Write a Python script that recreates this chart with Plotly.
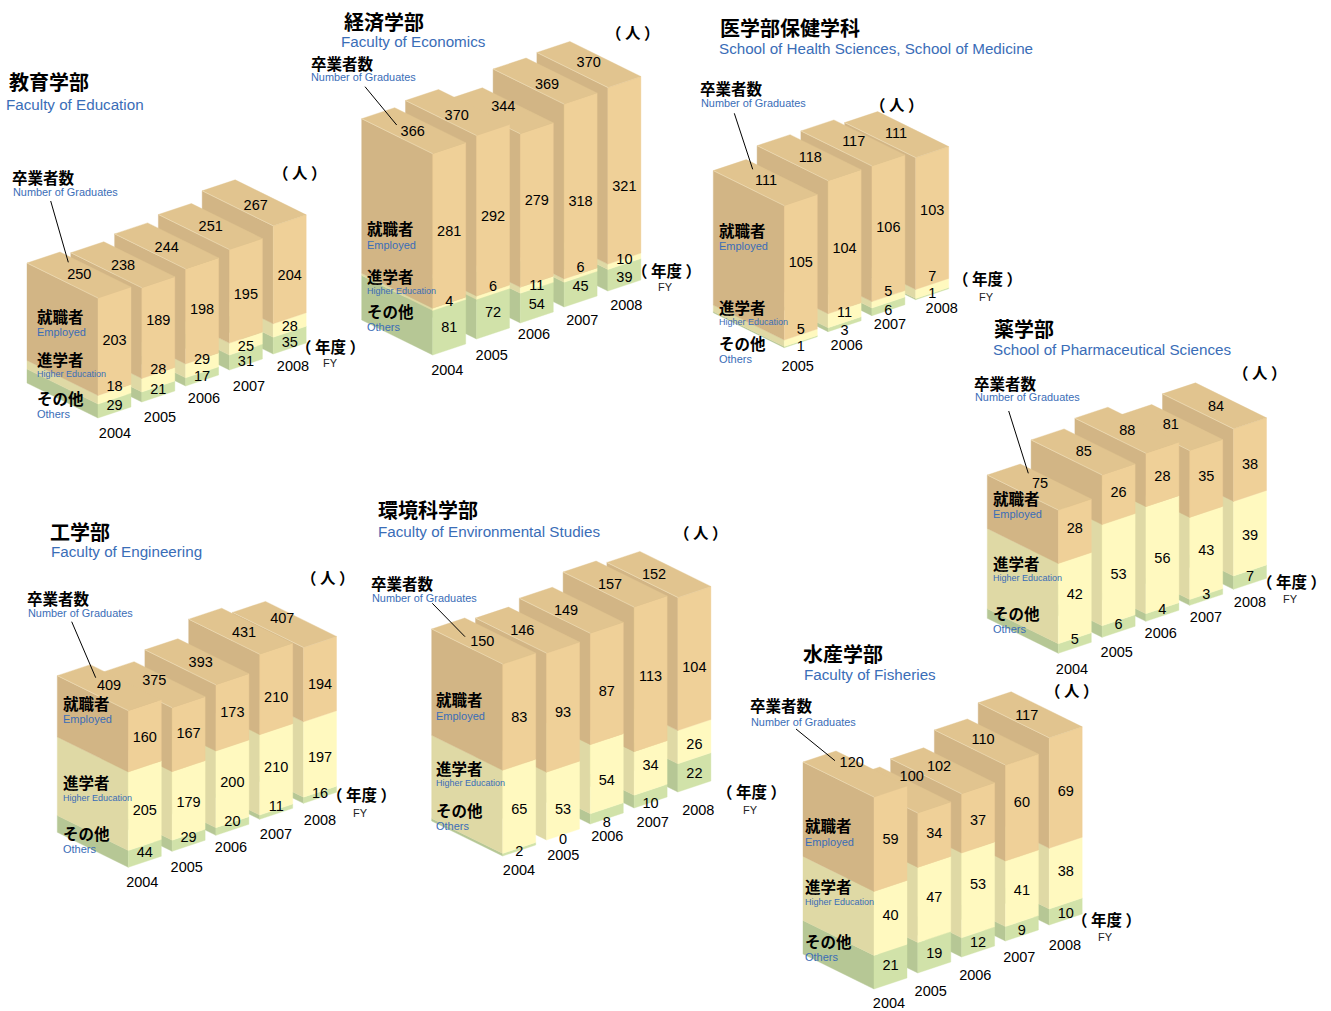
import plotly.graph_objects as go

YEARS = ["2004", "2005", "2006", "2007", "2008"]

EDU_OTHERS = [29, 21, 17, 31, 35]
EDU_HIGHER = [18, 28, 29, 25, 28]
EDU_EMPLOYED = [203, 189, 198, 195, 204]
EDU_TOTAL = [250, 238, 244, 251, 267]

ECO_OTHERS = [81, 72, 54, 45, 39]
ECO_HIGHER = [4, 6, 11, 6, 10]
ECO_EMPLOYED = [281, 292, 279, 318, 321]
ECO_TOTAL = [366, 370, 344, 369, 370]

MED_YEARS = ["2005", "2006", "2007", "2008"]
MED_OTHERS = [1, 3, 6, 1]
MED_HIGHER = [5, 11, 5, 7]
MED_EMPLOYED = [105, 104, 106, 103]
MED_TOTAL = [111, 118, 117, 111]

PHA_OTHERS = [5, 6, 4, 3, 7]
PHA_HIGHER = [42, 53, 56, 43, 39]
PHA_EMPLOYED = [28, 26, 28, 35, 38]
PHA_TOTAL = [75, 85, 88, 81, 84]

ENG_OTHERS = [44, 29, 20, 11, 16]
ENG_HIGHER = [205, 179, 200, 210, 197]
ENG_EMPLOYED = [160, 167, 173, 210, 194]
ENG_TOTAL = [409, 375, 393, 431, 407]

ENV_OTHERS = [2, 0, 8, 10, 22]
ENV_HIGHER = [65, 53, 54, 34, 26]
ENV_EMPLOYED = [83, 93, 87, 113, 104]
ENV_TOTAL = [150, 146, 149, 157, 152]

FIS_OTHERS = [21, 19, 12, 9, 10]
FIS_HIGHER = [40, 47, 53, 41, 38]
FIS_EMPLOYED = [59, 34, 37, 60, 69]
FIS_TOTAL = [120, 100, 102, 110, 117]

# Layout of each panel: where the front bar stands, pixels per graduate, and hand-placed text.
PANELS = [
    dict(ja="教育学部", en="Faculty of Education", years=YEARS, data=(EDU_OTHERS, EDU_HIGHER, EDU_EMPLOYED, EDU_TOTAL),
         origin=(98, 418), scale=0.48, title=(9, 82, 6, 104), grad=(12, 178, 13, 192), leader=(50.7, 201, 68.3, 262.3),
         unit=(300, 173), fy=(330, 347, 330, 362),
         year_xy=[(115, 433), (160, 417), (204, 398), (249, 386), (293, 366)],
         names=(37, 317, 332, 360, 374, 399, 414),
         y_o=[405.7, 389, 376.7, 361.7, 342.7], y_h=[386.7, 369.3, 359.3, 346.7, 326.7], y_e=[340, 320.7, 309, 294.7, 275],
         tot_xy=[(79.3, 274), (123, 265), (166.7, 247), (210.7, 226.7), (255.7, 205)]),
    dict(ja="経済学部", en="Faculty of Economics", years=YEARS, data=(ECO_OTHERS, ECO_HIGHER, ECO_EMPLOYED, ECO_TOTAL),
         origin=(432.7, 355), scale=0.55, title=(344, 22, 341, 41), grad=(311, 64, 311, 77), leader=(365, 86.7, 396.7, 125),
         unit=(633, 33), fy=(666, 271, 665, 286),
         year_xy=[(447.3, 370.7), (491.7, 355), (534, 334), (582.3, 320), (626.3, 305)],
         names=(367, 229, 245, 277, 291, 312, 327),
         y_o=[327.7, 312.7, 304, 286.7, 277.7], y_h=[301.7, 286.7, 285, 267.7, 259], y_e=[231.7, 216, 200, 201.7, 186.7],
         tot_xy=[(412.7, 131.7), (456.7, 115.7), (503.3, 106), (547, 84.7), (588.7, 62.7)]),
    dict(ja="医学部保健学科", en="School of Health Sciences, School of Medicine", years=MED_YEARS,
         data=(MED_OTHERS, MED_HIGHER, MED_EMPLOYED, MED_TOTAL),
         origin=(784.3, 347.7), scale=1.28, title=(720, 28, 718.7, 48), grad=(700, 89, 701, 103), leader=(734.3, 113.3, 752.7, 169.3),
         unit=(897.3, 105), fy=(987.7, 279, 986.7, 296),
         year_xy=[(797.7, 366.7), (846.7, 345.7), (890, 324.3), (941.7, 308.7)],
         names=(719, 231, 246, 308, 322, 344, 359),
         y_o=[346.7, 330.7, 310, 293.3], y_h=[329, 312.7, 291.7, 276.7], y_e=[262.7, 248.7, 227.7, 210.7],
         tot_xy=[(766, 180.7), (810.3, 157.7), (853.7, 141.7), (896, 133.3)]),
    dict(ja="薬学部", en="School of Pharmaceutical Sciences", years=YEARS, data=(PHA_OTHERS, PHA_HIGHER, PHA_EMPLOYED, PHA_TOTAL),
         origin=(1058.3, 653.3), scale=1.91, title=(994, 329, 993, 349), grad=(974, 384, 975, 397), leader=(1008.7, 411, 1028.3, 473.3),
         unit=(1260, 373), fy=(1291.7, 582, 1290.7, 598),
         year_xy=[(1072, 669), (1116.7, 652.7), (1160.7, 633.7), (1206, 617.7), (1250, 602.7)],
         names=(993, 499, 514, 564, 578, 614, 629),
         y_o=[639.3, 624.3, 609, 594, 576.7], y_h=[594.3, 574.3, 558.7, 550.7, 535.7], y_e=[528.7, 492.7, 476.7, 476.7, 464.3],
         tot_xy=[(1040, 483.3), (1083.7, 451.7), (1127.3, 430), (1170.7, 424), (1216, 406)]),
    dict(ja="工学部", en="Faculty of Engineering", years=YEARS, data=(ENG_OTHERS, ENG_HIGHER, ENG_EMPLOYED, ENG_TOTAL),
         origin=(128.3, 867.3), scale=0.383, title=(50, 532, 51, 551), grad=(27, 599, 28, 613), leader=(71.7, 621.7, 95.7, 677.7),
         unit=(328, 578), fy=(361.7, 795, 360.7, 812),
         year_xy=[(142.3, 882.7), (186.7, 867.7), (231, 847.7), (276, 834.3), (320, 820)],
         names=(63, 704, 719, 783, 797.5, 834, 849),
         y_o=[852.3, 837.7, 821.7, 806.7, 793.3], y_h=[810.7, 802.7, 782.7, 767.3, 757.7], y_e=[737.7, 733.7, 712.7, 697.7, 684.7],
         tot_xy=[(109, 685.7), (154.3, 680), (200.7, 662.7), (244, 632.7), (282.3, 618.3)]),
    dict(ja="環境科学部", en="Faculty of Environmental Studies", years=YEARS, data=(ENV_OTHERS, ENV_HIGHER, ENV_EMPLOYED, ENV_TOTAL),
         origin=(502.7, 856), scale=1.28, title=(378, 510, 378, 531.7), grad=(371, 584, 372, 598), leader=(432.3, 603.3, 465, 636.7),
         unit=(700.7, 533), fy=(751.7, 792.7, 750.7, 809),
         year_xy=[(519, 870.7), (563.3, 855), (607.3, 836.7), (652.7, 822.7), (698.3, 810)],
         names=(436, 700, 715.5, 769, 783, 811, 826),
         y_o=[851.7, 839, 822.7, 803.7, 773.7], y_h=[809, 809, 780.7, 765.7, 744], y_e=[717.7, 712.7, 691.7, 676.7, 667.7],
         tot_xy=[(482.3, 641.7), (522.3, 630.7), (566, 610), (610, 584), (654, 574)]),
    dict(ja="水産学部", en="Faculty of Fisheries", years=YEARS, data=(FIS_OTHERS, FIS_HIGHER, FIS_EMPLOYED, FIS_TOTAL),
         origin=(874, 989), scale=1.6, title=(803, 654, 804, 674), grad=(750, 706, 751, 722), leader=(796, 729, 835, 760.7),
         unit=(1071.7, 691), fy=(1106.7, 920, 1105.3, 936),
         year_xy=[(889, 1003.5), (930.7, 991.7), (975.3, 975.7), (1019.3, 957.7), (1065, 945)],
         names=(805, 826, 842, 887, 901.5, 942, 957),
         y_o=[965.7, 953.7, 942.3, 930.7, 913.7], y_h=[915.7, 897.3, 884.7, 890.7, 871.7], y_e=[839, 833.7, 820.3, 802.7, 791.7],
         tot_xy=[(851.7, 762.7), (911.7, 776.7), (939, 766.7), (983, 739), (1026.7, 715)]),
]

# Projection vectors of the bars, in pixels
LEFT = (-71, -35)
RIGHT = (33, -11)
STEP = (43.8, -16)

COL_RIGHT = ["#D1E2A9", "#FFF9BF", "#EFD098"]
COL_LEFT = ["#B6C795", "#DFD9A5", "#D2B585"]
COL_TOP = "#E1C48F"
COL_EDGE = "#EEDDB8"
BLUE = "#3A6DB7"
CJK = "Noto Sans CJK JP, sans-serif"
SANS = "Liberation Sans, Arial, sans-serif"

fig = go.Figure()
annotations = []


def face(points, colour):
    xs = [p[0] for p in points] + [points[0][0]]
    ys = [p[1] for p in points] + [points[0][1]]
    fig.add_trace(go.Scatter(x=xs, y=ys, mode="lines", fill="toself", fillcolor=colour,
                             line=dict(color=colour, width=0.4), hoverinfo="skip", showlegend=False))


def note(x, y, text, size, family=SANS, colour="#000", anchor="left"):
    annotations.append(dict(x=x, y=y, xref="x", yref="y", text=text, showarrow=False, xanchor=anchor,
                            yanchor="middle", borderpad=0, font=dict(size=size, family=family, color=colour)))


def offset(p, v, k=1.0):
    return (p[0] + v[0] * k, p[1] + v[1] * k)


def draw_bar(front, stack, total, scale):
    base = 0.0
    for seg, value in enumerate(stack):
        if value > 0:
            f0 = (front[0], front[1] - base * scale)
            f1 = (front[0], front[1] - (base + value) * scale)
            face([f0, f1, offset(f1, LEFT), offset(f0, LEFT)], COL_LEFT[seg])
            face([f0, f1, offset(f1, RIGHT), offset(f0, RIGHT)], COL_RIGHT[seg])
        base += value
    top = (front[0], front[1] - base * scale)
    back = offset(offset(top, LEFT), RIGHT)
    face([top, offset(top, LEFT), back, offset(top, RIGHT)], COL_TOP)
    edge = offset(top, LEFT)
    fig.add_trace(go.Scatter(x=[edge[0], top[0]], y=[edge[1], top[1]],
                             mode="lines", line=dict(color=COL_EDGE, width=0.7), hoverinfo="skip", showlegend=False))


value_x, value_y, value_text = [], [], []
TEXT_DY = 1.0  # scatter text sits slightly high against the reference
for p in PANELS:
    others, higher, employed, total = p["data"]
    n = len(total)
    for i in range(n - 1, -1, -1):
        front = offset(p["origin"], STEP, i)
        draw_bar(front, (others[i], higher[i], employed[i]), total[i], p["scale"])
    for i in range(n):
        x = p["origin"][0] + STEP[0] * i + RIGHT[0] / 2
        for vals, ys in ((others, p["y_o"]), (higher, p["y_h"]), (employed, p["y_e"])):
            value_x.append(x)
            value_y.append(ys[i] + TEXT_DY)
            value_text.append(str(vals[i]))
        value_x.append(p["tot_xy"][i][0])
        value_y.append(p["tot_xy"][i][1] + TEXT_DY)
        value_text.append(str(total[i]))
        value_x.append(p["year_xy"][i][0])
        value_y.append(p["year_xy"][i][1] + TEXT_DY)
        value_text.append(p["years"][i])

    tx, ty, ex, ey = p["title"]
    note(tx - 1, ty - 1, "<b>%s</b>" % p["ja"], 20, CJK)
    note(ex - 1, ey, p["en"], 15.2, SANS, BLUE)
    gx, gy, hx, hy = p["grad"]
    note(gx - 1, gy - 1, "<b>卒業者数</b>", 15.5, CJK)
    note(hx - 1, hy, "Number of Graduates", 10.9, SANS, BLUE)
    lx, a, b, c, d, e, f = p["names"]
    note(lx - 1, a - 1, "<b>就職者</b>", 15.5, CJK)
    note(lx - 1, b, "Employed", 11, SANS, BLUE)
    note(lx - 1, c - 1, "<b>進学者</b>", 15.5, CJK)
    note(lx - 1, d, "Higher Education", 9, SANS, BLUE)
    note(lx - 1, e - 1, "<b>その他</b>", 15.5, CJK)
    note(lx - 1, f, "Others", 11, SANS, BLUE)
    note(p["unit"][0], p["unit"][1] - 1, "<b>（ 人 ）</b>", 15.5, CJK, anchor="center")
    fx, fy, gx2, gy2 = p["fy"]
    note(fx, fy - 1.5, "<b>（ 年度 ）</b>", 15.5, CJK, anchor="center")
    note(gx2, gy2 + 0.5, "FY", 11, SANS, "#222", anchor="center")
    x0, y0, x1, y1 = p["leader"]
    fig.add_trace(go.Scatter(x=[x0, x1], y=[y0, y1], mode="lines", line=dict(color="#000", width=1),
                             hoverinfo="skip", showlegend=False))

fig.add_trace(go.Scatter(x=value_x, y=value_y, text=value_text, mode="text", textposition="middle center",
                         textfont=dict(size=14.5, family=SANS, color="#000"), hoverinfo="skip", showlegend=False))

fig.update_layout(
    width=1331, height=1011, autosize=False, margin=dict(l=0, r=0, t=0, b=0),
    paper_bgcolor="white", plot_bgcolor="white", annotations=annotations, showlegend=False,
    xaxis=dict(range=[0, 1331], visible=False, fixedrange=True),
    yaxis=dict(range=[1011, 0], visible=False, fixedrange=True),
)
fig.write_html("out.html", config={"displayModeBar": False},
               post_script="document.body.style.margin='0';document.body.style.overflow='hidden';")
